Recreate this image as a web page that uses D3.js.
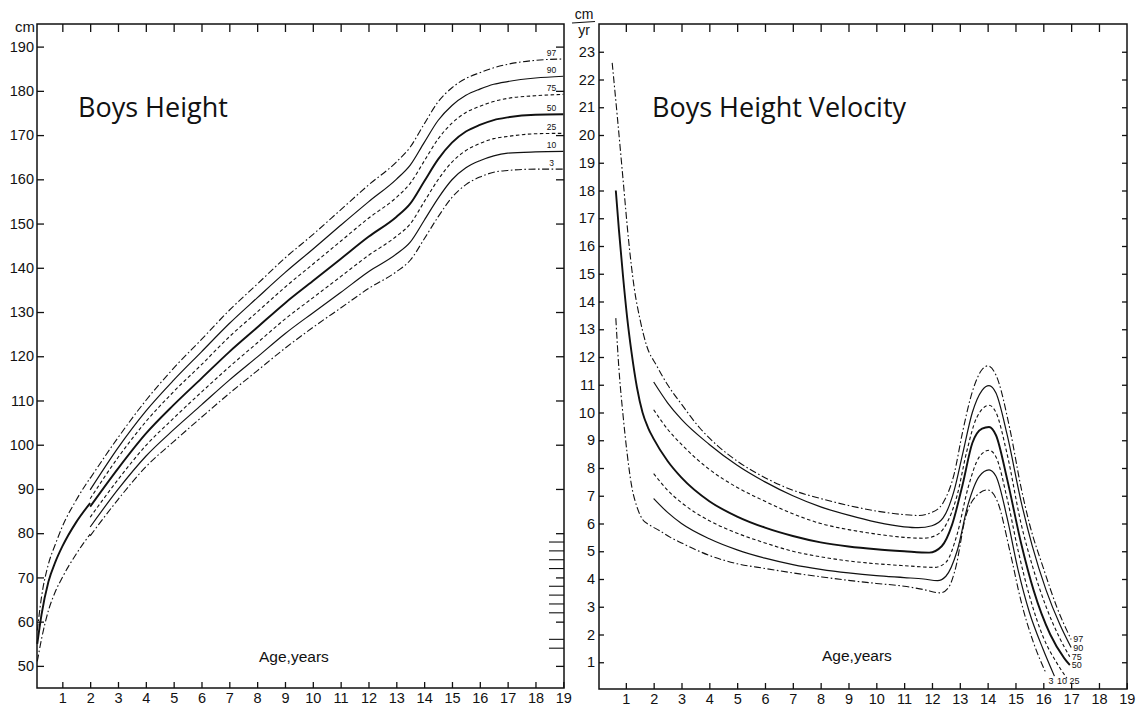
<!DOCTYPE html>
<html>
<head>
<meta charset="utf-8">
<script src="https://cdn.jsdelivr.net/npm/d3@7"></script>
<style>
  body { margin: 0; background: #fff; }
  svg text { font-family: "Liberation Sans", Arial, Helvetica, sans-serif; fill: #111; }
  .title { font-family: "Open Sans", "Noto Sans", sans-serif; }
</style>
</head>
<body>
<svg id="chart" width="1139" height="706"></svg>
<script>
// ---------- tick labels ----------
const ageTickValues = [1, 2, 3, 4, 5, 6, 7, 8, 9, 10, 11, 12, 13, 14, 15, 16, 17, 18, 19];
const heightTickValues = [50, 60, 70, 80, 90, 100, 110, 120, 130, 140, 150, 160, 170, 180, 190];
const velocityTickValues = [1, 2, 3, 4, 5, 6, 7, 8, 9, 10, 11, 12, 13, 14, 15, 16, 17, 18, 19, 20, 21, 22, 23];
const centiles = [97, 90, 75, 50, 25, 10, 3];
// extra graduation marks on the right edge of the height chart (cm)
const heightEdgeMarks = [78, 76, 74, 72, 68, 66, 64, 62, 56, 54];

// ---------- height, birth to 2 years (lying length, cm) ----------
const infantAges = [0.1, 0.25, 0.5, 0.75, 1, 1.5, 2];
const infantHeight97 = [58.0, 65.5, 73.0, 77.5, 81.5, 87.5, 92.5];
const infantHeight50 = [55.0, 61.5, 69.0, 73.5, 77.0, 82.5, 86.8];
const infantHeight3  = [51.0, 56.0, 62.5, 66.8, 70.0, 75.3, 79.8];

// ---------- height, 2 to 19 years (standing, cm) ----------
const childAges = [2, 3, 4, 5, 6, 7, 8, 9, 10, 11, 12, 13, 13.5, 14, 14.5, 15, 15.5, 16, 16.5, 17, 18, 19];
const height97 = [92.4, 101.6, 110.0, 117.3, 123.8, 130.4, 136.3, 142.2, 147.5, 153.1, 158.7, 163.9, 167.3, 172.5, 177.5, 180.7, 182.8, 184.1, 185.2, 186.0, 186.9, 187.2];
const height90 = [89.8, 99.3, 107.6, 114.6, 121.0, 127.4, 133.2, 138.9, 144.2, 149.6, 154.9, 160.0, 163.2, 168.3, 173.3, 176.7, 179.0, 180.4, 181.5, 182.1, 182.9, 183.3];
const height75 = [87.8, 97.1, 105.2, 112.0, 118.1, 124.4, 130.0, 135.6, 140.8, 146.0, 151.2, 155.9, 159.1, 164.1, 169.1, 172.7, 175.1, 176.5, 177.6, 178.3, 178.9, 179.2];
const height50 = [86.0, 94.6, 102.5, 109.0, 115.0, 121.0, 126.5, 132.0, 137.0, 142.0, 147.0, 151.5, 154.5, 159.5, 164.5, 168.3, 170.8, 172.3, 173.4, 174.0, 174.6, 174.7];
const height25 = [83.6, 92.1, 99.8, 106.0, 111.9, 117.6, 123.0, 128.4, 133.2, 138.0, 142.8, 147.1, 149.9, 154.9, 159.9, 163.9, 166.5, 168.1, 169.2, 169.7, 170.3, 170.4];
const height10 = [81.4, 89.9, 97.4, 103.4, 109.0, 114.6, 119.8, 125.1, 129.8, 134.4, 139.1, 143.1, 145.8, 150.7, 155.7, 159.9, 162.6, 164.2, 165.3, 165.9, 166.2, 166.3];
const height3  = [79.4, 87.6, 95.0, 100.7, 106.2, 111.6, 116.7, 121.8, 126.5, 130.9, 135.3, 139.1, 141.7, 146.5, 151.5, 155.9, 158.8, 160.5, 161.6, 162.0, 162.3, 162.3];

// ---------- height velocity, [age, cm/yr] ----------
const velocity97 = [[0.51,22.6],[0.7,20.6],[0.9,18.4],[1.1,16.2],[1.3,14.5],[1.5,13.4],[1.75,12.4],[2.1,11.7],[2.5,11.0],[3,10.3],[3.65,9.45],[4.3,8.8],[5,8.25],[6,7.65],[7,7.2],[8,6.9],[9,6.65],[10,6.45],[11,6.32],[11.5,6.29],[12,6.4],[12.4,6.75],[12.8,7.8],[13.1,9.3],[13.45,10.75],[13.8,11.55],[14.0,11.68],[14.3,11.35],[14.8,9.4],[15.2,7.3],[15.5,6.0],[16.0,4.4],[16.5,2.95],[17.0,1.82]];
const velocity90 = [[2,11.1],[2.5,10.35],[3,9.75],[4,8.85],[5,8.1],[6,7.5],[7,7.0],[8,6.6],[9,6.3],[10,6.05],[11,5.88],[11.5,5.85],[12,5.92],[12.4,6.2],[12.8,7.2],[13.1,8.5],[13.45,10.0],[13.8,10.8],[14.05,10.97],[14.3,10.7],[14.7,9.2],[15.2,6.8],[15.6,5.2],[16.1,3.6],[16.6,2.35],[17.0,1.53]];
const velocity75 = [[2,10.1],[2.5,9.4],[3,8.85],[4,7.95],[5,7.3],[6,6.8],[7,6.35],[8,6.0],[9,5.78],[10,5.62],[11,5.5],[11.7,5.47],[12.1,5.55],[12.5,5.95],[12.9,7.0],[13.25,8.6],[13.6,9.8],[14.05,10.26],[14.3,10.0],[14.7,8.5],[15.2,6.0],[15.6,4.5],[16.1,3.0],[16.6,1.85],[16.95,1.2]];
const velocity50 = [[0.64,18.0],[0.75,16.6],[0.9,14.9],[1.05,13.4],[1.2,12.2],[1.4,10.9],[1.6,10.0],[1.8,9.45],[2,9.05],[2.5,8.25],[3,7.65],[4,6.8],[5,6.25],[6,5.85],[7,5.55],[8,5.32],[9,5.17],[10,5.07],[11,5.0],[11.9,4.95],[12.35,5.18],[12.72,5.95],[13.1,7.4],[13.45,8.9],[13.8,9.42],[14.05,9.48],[14.3,9.18],[14.7,7.6],[15.2,5.3],[15.65,3.6],[16.25,2.0],[16.75,1.15],[16.95,0.9]];
const velocity25 = [[2,7.8],[2.5,7.2],[3,6.75],[4,6.1],[5,5.65],[6,5.3],[7,5.0],[8,4.8],[9,4.65],[10,4.55],[11,4.48],[12.1,4.42],[12.5,4.6],[12.9,5.6],[13.3,7.3],[13.7,8.4],[14.05,8.64],[14.3,8.4],[14.7,6.9],[15.1,5.0],[15.5,3.4],[16.0,1.9],[16.5,0.95],[16.85,0.42]];
const velocity10 = [[2,6.9],[2.5,6.4],[3,6.0],[4,5.45],[5,5.05],[6,4.75],[7,4.52],[8,4.35],[9,4.22],[10,4.12],[11,4.05],[11.7,4.0],[12.2,3.94],[12.5,4.1],[12.9,5.0],[13.3,6.7],[13.7,7.7],[14.05,7.93],[14.3,7.7],[14.7,6.2],[15.1,4.3],[15.5,2.8],[16.0,1.45],[16.4,0.5]];
const velocity3  = [[0.64,13.4],[0.75,11.6],[0.9,9.9],[1.05,8.5],[1.2,7.4],[1.4,6.6],[1.6,6.15],[1.85,5.95],[2.2,5.75],[2.6,5.5],[3,5.3],[4,4.85],[5,4.55],[6,4.38],[7,4.22],[8,4.08],[9,3.95],[10,3.84],[11,3.74],[11.7,3.62],[12.3,3.5],[12.6,3.7],[12.85,4.4],[13.2,6.2],[13.6,7.0],[14.0,7.21],[14.35,6.8],[14.8,5.0],[15.2,3.2],[15.65,1.7],[16.1,0.6]];

// ---------- line styles per centile ----------
const DASH_DOT = "7,2.5,1.6,2.5";
const DASHED = "3.5,2.5";
const styleFor = {
  97: { dash: DASH_DOT, width: 1.1 },
  90: { dash: null, width: 1.2 },
  75: { dash: DASHED, width: 1.1 },
  50: { dash: null, width: 1.9 },
  25: { dash: DASHED, width: 1.1 },
  10: { dash: null, width: 1.2 },
  3:  { dash: DASH_DOT, width: 1.1 }
};

const svg = d3.select("#chart");
const INK = "#111";

function drawCurve(g, points, x, y, c) {
  const line = d3.line().x(d => x(d[0])).y(d => y(d[1])).curve(d3.curveMonotoneX);
  g.append("path")
    .datum(points)
    .attr("d", line)
    .attr("fill", "none")
    .attr("stroke", INK)
    .attr("stroke-width", styleFor[c].width)
    .attr("stroke-dasharray", styleFor[c].dash);
}
const zip = (ages, vals) => ages.map((a, i) => [a, vals[i]]);

function styleAxis(g, fontSize) {
  g.select(".domain").remove();
  g.selectAll(".tick line").attr("stroke", INK).attr("stroke-width", 1.3);
  g.selectAll(".tick text").attr("font-size", fontSize).attr("fill", INK)
    .attr("font-family", "Liberation Sans, Arial, sans-serif");
}

function frame(g, x0, x1, y0, y1) {
  g.append("rect").attr("x", x0).attr("y", y0).attr("width", x1 - x0).attr("height", y1 - y0)
    .attr("fill", "none").attr("stroke", INK).attr("stroke-width", 1.5);
}

// =============== Boys Height ===============
const xH = d3.scaleLinear().domain([0, 19]).range([34.5, 563.3]);
const yH = d3.scaleLinear().domain([45, 195]).range([688, 24.5]);
const gH = svg.append("g");
const HL = { left: 37, right: 564, top: 24, bottom: 688 };

frame(gH, HL.left, HL.right, HL.top, HL.bottom);

gH.append("g").attr("transform", `translate(${HL.left},0)`)
  .call(d3.axisLeft(yH).tickValues(heightTickValues).tickSize(-7).tickPadding(3).tickFormat(d3.format("d")))
  .call(g => styleAxis(g, 14.5));
gH.append("g").attr("transform", `translate(${HL.right},0)`)
  .call(d3.axisRight(yH).tickValues(heightTickValues).tickSize(-8).tickFormat(""))
  .call(g => styleAxis(g, 14.5));
gH.append("g").attr("transform", `translate(0,${HL.bottom})`)
  .call(d3.axisBottom(xH).tickValues(ageTickValues).tickSize(-6).tickPadding(5).tickFormat(d3.format("d")))
  .call(g => styleAxis(g, 14.5));
gH.append("g").attr("transform", `translate(0,${HL.top})`)
  .call(d3.axisTop(xH).tickValues(ageTickValues.slice(0, -1)).tickSize(-8).tickFormat(""))
  .call(g => styleAxis(g, 14.5));

// graduation marks along the right edge
gH.selectAll("line.mark").data(heightEdgeMarks).join("line")
  .attr("class", "mark")
  .attr("x1", HL.right - 15).attr("x2", HL.right)
  .attr("y1", d => yH(d)).attr("y2", d => yH(d))
  .attr("stroke", INK).attr("stroke-width", 1.1);

gH.append("text").attr("x", 35).attr("y", 32).attr("text-anchor", "end")
  .attr("font-size", 15).text("cm");

gH.append("text").attr("class", "title").attr("x", 78).attr("y", 117)
  .attr("font-size", 27).text("Boys Height");

gH.append("text").attr("x", 259).attr("y", 662).attr("font-size", 15.5).text("Age,years");

const infantH = { 97: infantHeight97, 50: infantHeight50, 3: infantHeight3 };
const childH = { 97: height97, 90: height90, 75: height75, 50: height50, 25: height25, 10: height10, 3: height3 };
Object.keys(infantH).forEach(c => drawCurve(gH, zip(infantAges, infantH[c]), xH, yH, c));
centiles.forEach(c => drawCurve(gH, zip(childAges, childH[c]), xH, yH, c));
centiles.forEach(c => {
  const vals = childH[c];
  gH.append("text").attr("x", 551.5).attr("y", yH(vals[vals.length - 1]) - 3)
    .attr("text-anchor", "middle").attr("font-size", 8.5).text(c);
});

// =============== Boys Height Velocity ===============
const xV = d3.scaleLinear().domain([0, 19]).range([598, 1126.8]);
const yV = d3.scaleLinear().domain([0, 24]).range([690, 24]);
const gV = svg.append("g");
const VL = { left: 599, right: 1127, top: 24, bottom: 689 };

frame(gV, VL.left, VL.right, VL.top, VL.bottom);

gV.append("g").attr("transform", `translate(${VL.left},0)`)
  .call(d3.axisLeft(yV).tickValues(velocityTickValues).tickSize(-5).tickPadding(4).tickFormat(d3.format("d")))
  .call(g => styleAxis(g, 14.5));
gV.append("g").attr("transform", `translate(${VL.right},0)`)
  .call(d3.axisRight(yV).tickValues(velocityTickValues).tickSize(-5).tickFormat(""))
  .call(g => styleAxis(g, 14.5));
gV.append("g").attr("transform", `translate(0,${VL.bottom})`)
  .call(d3.axisBottom(xV).tickValues(ageTickValues).tickSize(-6).tickPadding(5).tickFormat(d3.format("d")))
  .call(g => styleAxis(g, 14.5));
gV.append("g").attr("transform", `translate(0,${VL.top})`)
  .call(d3.axisTop(xV).tickValues(ageTickValues.slice(0, -1)).tickSize(-8).tickFormat(""))
  .call(g => styleAxis(g, 14.5));

// unit written as a fraction: cm over yr
gV.append("text").attr("x", 584).attr("y", 18.5).attr("text-anchor", "middle").attr("font-size", 14).text("cm");
gV.append("line").attr("x1", 572).attr("x2", 595).attr("y1", 23).attr("y2", 21.5)
  .attr("stroke", INK).attr("stroke-width", 1.2);
gV.append("text").attr("x", 584).attr("y", 34.5).attr("text-anchor", "middle").attr("font-size", 14).text("yr");

gV.append("text").attr("class", "title").attr("x", 652).attr("y", 117)
  .attr("font-size", 27).text("Boys Height Velocity");

gV.append("text").attr("x", 822).attr("y", 661).attr("font-size", 15.5).text("Age,years");

const velocityByCentile = { 97: velocity97, 90: velocity90, 75: velocity75, 50: velocity50, 25: velocity25, 10: velocity10, 3: velocity3 };
centiles.forEach(c => drawCurve(gV, velocityByCentile[c], xV, yV, c));

// end labels: upper centiles beside the curve end, lower centiles beneath it
centiles.forEach(c => {
  const pts = velocityByCentile[c];
  const end = pts[pts.length - 1];
  if (c >= 50) {
    gV.append("text").attr("x", xV(end[0]) + 2).attr("y", yV(end[1]) + 3)
      .attr("font-size", 9).text(c);
  } else {
    gV.append("text").attr("x", xV(end[0]) + 2.5).attr("y", 684)
      .attr("font-size", 9).text(c);
  }
});
</script>
</body>
</html>
